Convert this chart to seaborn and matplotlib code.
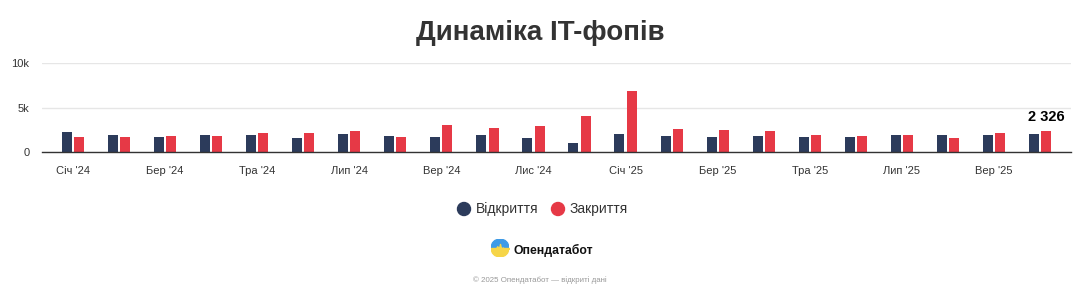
import numpy as np
import pandas as pd
import matplotlib
matplotlib.use("Agg")
import matplotlib.pyplot as plt
import seaborn as sns
from matplotlib.patches import Wedge, Ellipse

months = ["Січ '24", "Лют '24", "Бер '24", "Кві '24", "Тра '24", "Чер '24", "Лип '24", "Сер '24",
          "Вер '24", "Жов '24", "Лис '24", "Гру '24", "Січ '25", "Лют '25", "Бер '25", "Кві '25",
          "Тра '25", "Чер '25", "Лип '25", "Сер '25", "Вер '25", "Жов '25"]
openings = [2260, 1890, 1700, 1890, 1890, 1590, 2000, 1810, 1700, 1890, 1520, 960,
            2000, 1810, 1630, 1810, 1630, 1700, 1890, 1890, 1890, 2000]
closings = [1700, 1700, 1810, 1810, 2110, 2190, 2370, 1700, 3000, 2740, 2930, 4040,
            6810, 2630, 2480, 2370, 1890, 1810, 1890, 1520, 2190, 2326]
series_names = ["Відкриття", "Закриття"]
colors = ["#2c3b5b", "#e63946"]
title = "Динаміка IT-фопів"
ytick_vals = [0, 5000, 10000]
ytick_labels = ["0", "5k", "10k"]

sns.set_theme(style="white")
plt.rcParams['font.family'] = ['Liberation Sans', 'DejaVu Sans']

df = pd.DataFrame({
    "month": months * 2,
    "value": openings + closings,
    "series": [series_names[0]] * len(months) + [series_names[1]] * len(months),
})

fig = plt.figure(figsize=(10.8, 3.0), dpi=100)
ax = fig.add_axes([42 / 1080, 1 - 152 / 300, (1071 - 42) / 1080, (152 - 63) / 300])

sns.barplot(data=df, x="month", y="value", hue="series", order=months,
            hue_order=series_names, palette=colors, width=0.53, gap=0.18,
            saturation=1, legend=False, ax=ax, errorbar=None, linewidth=0)

ax.set_xlim(-0.67, 21.67)
ax.set_ylim(0, 10000)
ax.set_yticks(ytick_vals)
ax.set_yticklabels(ytick_labels)
ax.set_xticks(range(0, len(months), 2))
ax.set_xticklabels(months[::2])
ax.tick_params(axis="x", length=0, pad=10, labelsize=8, labelcolor="#333333")
ax.tick_params(axis="y", length=0, pad=9, labelsize=8, labelcolor="#333333")
ax.set_xlabel("")
ax.set_ylabel("")
ax.grid(axis="y", color="#e6e6e6", linewidth=1)
ax.set_axisbelow(True)
for s in ["top", "right", "left"]:
    ax.spines[s].set_visible(False)
ax.spines["bottom"].set_color("#333333")
ax.spines["bottom"].set_linewidth(1)

# data label on the last closing bar
last_red = ax.patches[-1]
ax.annotate("2 326", xy=(last_red.get_x() + last_red.get_width() / 2, closings[-1]),
            xytext=(0, 5), textcoords="offset points", ha="center", va="bottom",
            fontsize=10.5, fontweight="bold", color="#000000")

fig.text(0.5, 1 - 33 / 300, title, ha="center", va="center", fontsize=20,
         fontweight="bold", color="#333333")

# legend
for cx, col, name in [(464, colors[0], series_names[0]), (558, colors[1], series_names[1])]:
    fig.add_artist(Ellipse((cx / 1080, 1 - 209 / 300), 13 / 1080, 13 / 300,
                           transform=fig.transFigure, color=col))
    fig.text((cx + 12) / 1080, 1 - 209 / 300, name, ha="left", va="center",
             fontsize=10, color="#333333")

# logo
lax = fig.add_axes([(500 - 9) / 1080, 1 - (248 + 9) / 300, 18 / 1080, 18 / 300])
lax.set_xlim(-1, 1)
lax.set_ylim(-1, 1)
lax.axis("off")
lax.add_patch(Wedge((0, 0), 1, 180, 360, color="#f6d548"))
lax.add_patch(Wedge((0, 0), 1, 0, 180, color="#3d9ae6"))
xs = [-1, -0.45, -0.3, -0.15, 0, 0.15, 0.3, 0.45, 1]
ys = [-0.1, -0.1, 0.2, -0.3, 0.45, -0.2, 0.05, -0.1, -0.1]
lax.fill_between(xs, ys, 0.0, where=None, color="#f6d548", interpolate=True)
fig.text(513 / 1080, 1 - 250 / 300, "Опендатабот", ha="left", va="center",
         fontsize=8.8, fontweight="bold", color="#111111")

fig.text(0.5, 1 - 280 / 300, "© 2025 Опендатабот — відкриті дані", ha="center", va="center",
         fontsize=5.7, color="#999999")

fig.savefig("out.png", dpi=100, facecolor="white")
